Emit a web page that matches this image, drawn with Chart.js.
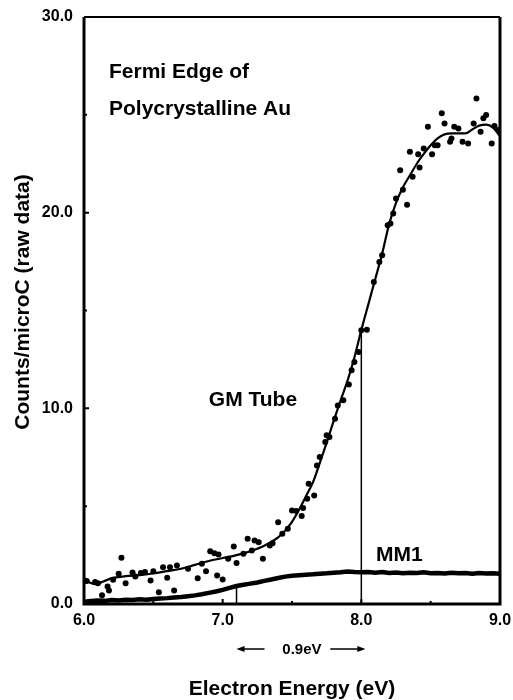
<!DOCTYPE html>
<html>
<head>
<meta charset="utf-8">
<script src="https://cdn.jsdelivr.net/npm/chart.js@4"></script>
<style>
  html, body { margin: 0; padding: 0; background: #fff; }
  canvas { display: block; }
</style>
</head>
<body>
<canvas id="chart" width="513" height="700"></canvas>
<script>

  /*
    ==================================================
    ====================== DATA ======================
    ==================================================
  */

  // GM tube raw counts
  let gmEnergy = [
    6.00, 6.02, 6.08, 6.10, 6.13, 6.17, 6.18, 6.21, 6.25, 6.27, 6.30, 6.35, 6.37,
    6.41, 6.44, 6.48, 6.50, 6.54, 6.57, 6.60, 6.62, 6.65, 6.67, 6.75, 6.82, 6.85,
    6.88, 6.91, 6.94, 6.96, 6.97, 7.00, 7.04, 7.08, 7.10, 7.15, 7.18, 7.21, 7.23,
    7.26, 7.29, 7.34, 7.36, 7.40, 7.43, 7.47, 7.50, 7.53, 7.57, 7.58, 7.61, 7.62,
    7.66, 7.68, 7.70, 7.74, 7.75, 7.77, 7.81, 7.83, 7.87, 7.91, 7.93, 7.95, 7.98,
    8.00, 8.04, 8.09, 8.13, 8.15, 8.19, 8.21, 8.23, 8.25, 8.28, 8.30, 8.33, 8.35,
    8.37, 8.41, 8.42, 8.45, 8.48, 8.51, 8.53, 8.55, 8.58, 8.60, 8.64, 8.65, 8.67,
    8.70, 8.73, 8.77, 8.81, 8.83, 8.86, 8.88, 8.90, 8.94, 8.96, 8.99
  ];
  let gmCounts = [
    1.22, 1.17, 1.12, 1.06, 0.45, 0.90, 0.69, 1.24, 1.54, 2.36, 1.06, 1.61, 1.41,
    1.58, 1.63, 1.20, 1.68, 0.60, 1.88, 1.34, 1.88, 0.69, 1.97, 1.80, 1.32, 2.06,
    1.68, 2.70, 2.60, 1.46, 2.53, 1.25, 2.31, 2.94, 2.09, 2.57, 3.33, 2.74, 3.25,
    3.16, 2.31, 2.99, 3.11, 4.18, 3.59, 3.85, 4.78, 4.75, 4.50, 4.90, 5.38, 6.15,
    5.55, 7.08, 7.51, 8.28, 8.62, 8.53, 9.47, 10.15, 10.41, 11.22, 11.94, 12.37, 12.88,
    13.99, 14.02, 16.46, 17.48, 17.83, 19.36, 19.45, 19.96, 20.73, 22.17, 21.17, 20.40, 23.11,
    21.83, 22.99, 22.31, 23.28, 24.39, 22.99, 23.45, 23.45, 25.08, 24.56, 23.62, 23.79, 24.39,
    24.30, 23.62, 23.54, 24.56, 25.84, 24.13, 24.82, 24.99, 23.54, 24.43, 24.22
  ];

  // smooth curve through the GM tube data
  let fitEnergy = [
    6.00, 6.04, 6.08, 6.14, 6.20, 6.30, 6.40, 6.50, 6.60, 6.70, 6.80, 6.90, 7.00,
    7.10, 7.20, 7.30, 7.40, 7.45, 7.50, 7.55, 7.60, 7.65, 7.70, 7.75, 7.80, 7.85,
    7.90, 7.95, 8.00, 8.05, 8.10, 8.15, 8.20, 8.25, 8.30, 8.35, 8.40, 8.45, 8.50,
    8.55, 8.60, 8.65, 8.70, 8.75, 8.80, 8.85, 8.90, 8.95, 9.00
  ];
  let fitCounts = [
    1.28, 1.10, 1.02, 1.15, 1.32, 1.42, 1.48, 1.56, 1.68, 1.80, 2.00, 2.20, 2.35,
    2.50, 2.70, 2.98, 3.40, 3.75, 4.20, 4.80, 5.50, 6.20, 7.20, 8.25, 9.35, 10.40,
    11.40, 12.60, 14.00, 15.30, 16.60, 17.90, 19.40, 20.50, 21.30, 21.90, 22.50, 23.00, 23.45,
    23.80, 24.00, 24.05, 24.05, 24.05, 24.25, 24.45, 24.50, 24.35, 23.90
  ];

  // MM1 counts
  let mmEnergy = [
    6.00, 6.05, 6.10, 6.15, 6.20, 6.25, 6.30, 6.35, 6.40, 6.45, 6.50, 6.55, 6.60,
    6.65, 6.70, 6.75, 6.80, 6.85, 6.90, 6.95, 7.00, 7.05, 7.10, 7.15, 7.20, 7.25,
    7.30, 7.35, 7.40, 7.45, 7.50, 7.55, 7.60, 7.65, 7.70, 7.75, 7.80, 7.85, 7.90,
    7.95, 8.00, 8.05, 8.10, 8.15, 8.20, 8.25, 8.30, 8.35, 8.40, 8.45, 8.50, 8.55,
    8.60, 8.65, 8.70, 8.75, 8.80, 8.85, 8.90, 8.95, 9.00
  ];
  let mmCounts = [
    0.12, 0.15, 0.18, 0.16, 0.20, 0.18, 0.22, 0.20, 0.24, 0.22, 0.26, 0.28, 0.30,
    0.33, 0.36, 0.40, 0.44, 0.50, 0.57, 0.64, 0.72, 0.82, 0.92, 0.98, 1.04, 1.10,
    1.18, 1.25, 1.33, 1.40, 1.44, 1.47, 1.50, 1.52, 1.55, 1.57, 1.60, 1.62, 1.66,
    1.63, 1.62, 1.64, 1.60, 1.63, 1.58, 1.61, 1.57, 1.60, 1.58, 1.62, 1.57, 1.59,
    1.56, 1.60, 1.57, 1.58, 1.55, 1.58, 1.56, 1.57, 1.55
  ];

  // vertical marker lines and the 0.9 eV width between them
  let markerEnergy = [7.1, 8.0];
  let markerTop = [1.0, 14.0];

  let xTicks = [6.0, 7.0, 8.0, 9.0];
  let xMinor = [6.5, 7.5, 8.5];
  let yTicks = [0, 10, 20, 30];
  let yMinor = [5, 15, 25];

  /*
    ==================================================
    ===================== PLUGIN =====================
    ==================================================
  */

  const FONT = '"Liberation Sans", Arial, Helvetica, sans-serif';

  let frameAndNotes = {
    id: 'frameAndNotes',
    afterDraw(chart) {
      let { ctx, chartArea: a, scales: { x, y } } = chart;

      ctx.save();
      ctx.strokeStyle = '#000';
      ctx.lineCap = 'butt';

      // frame
      ctx.lineWidth = 3;
      ctx.beginPath();
      ctx.moveTo(a.left, a.top);
      ctx.lineTo(a.left, a.bottom);
      ctx.lineTo(a.right, a.bottom);
      ctx.lineTo(a.right, a.top);
      ctx.stroke();
      ctx.lineWidth = 2;
      ctx.beginPath();
      ctx.moveTo(a.left, a.top);
      ctx.lineTo(a.right, a.top);
      ctx.stroke();

      // inward ticks
      ctx.lineWidth = 2;
      ctx.beginPath();
      yTicks.concat(yMinor).forEach(v => {
        let py = y.getPixelForValue(v);
        let len = yMinor.includes(v) ? 3 : 5;
        ctx.moveTo(a.left, py);
        ctx.lineTo(a.left + len, py);
      });
      xTicks.concat(xMinor).forEach(v => {
        let px = x.getPixelForValue(v);
        let len = xMinor.includes(v) ? 3 : 5;
        ctx.moveTo(px, a.bottom);
        ctx.lineTo(px, a.bottom - len);
      });
      ctx.stroke();

      ctx.fillStyle = '#000';
      ctx.textBaseline = 'alphabetic';

      // notes inside the plot
      ctx.font = `bold 21px ${FONT}`;
      ctx.textAlign = 'left';
      ctx.fillText('Fermi Edge of', x.getPixelForValue(6.18), y.getPixelForValue(26.9));
      ctx.fillText('Polycrystalline Au', x.getPixelForValue(6.18), y.getPixelForValue(25.0));
      ctx.fillText('GM Tube', x.getPixelForValue(6.90), y.getPixelForValue(10.1));
      ctx.fillText('MM1', x.getPixelForValue(8.105), y.getPixelForValue(2.2));

      // 0.9 eV arrows
      let x1 = x.getPixelForValue(markerEnergy[0]);
      let x2 = x.getPixelForValue(markerEnergy[1]) + 4;
      let ay = 649;
      ctx.font = `bold 15px ${FONT}`;
      ctx.textAlign = 'center';
      ctx.fillText('0.9eV', (x1 + x2) / 2 + 1, ay + 5);
      ctx.lineWidth = 1.3;
      ctx.beginPath();
      ctx.moveTo(x1 + 2, ay);
      ctx.lineTo(x1 + 28, ay);
      ctx.moveTo(x2 - 35, ay);
      ctx.lineTo(x2 - 2, ay);
      ctx.stroke();
      ctx.beginPath();
      ctx.moveTo(x1, ay);
      ctx.lineTo(x1 + 8, ay - 3);
      ctx.lineTo(x1 + 8, ay + 3);
      ctx.closePath();
      ctx.moveTo(x2, ay);
      ctx.lineTo(x2 - 8, ay - 3);
      ctx.lineTo(x2 - 8, ay + 3);
      ctx.closePath();
      ctx.fill();

      // axis titles
      ctx.font = `bold 21px ${FONT}`;
      ctx.textAlign = 'center';
      ctx.fillText('Electron Energy (eV)', (a.left + a.right) / 2, 695);

      ctx.translate(29, 302);
      ctx.rotate(-Math.PI / 2);
      ctx.fillText('Counts/microC (raw data)', 0, 0);

      ctx.restore();
    }
  };

  /*
    ==================================================
    ====================== CHART ======================
    ==================================================
  */

  let pairs = (xs, ys) => xs.map((v, i) => ({ x: v, y: ys[i] }));

  let markerSets = markerEnergy.map((e, i) => ({
    type: 'line',
    data: [{ x: e, y: 0 }, { x: e, y: markerTop[i] }],
    borderColor: '#000',
    borderWidth: 1.5,
    pointRadius: 0,
    order: 4
  }));

  new Chart(document.getElementById('chart').getContext('2d'), {
    type: 'scatter',
    data: {
      datasets: [
        {
          label: 'GM Tube',
          data: pairs(gmEnergy, gmCounts),
          backgroundColor: '#000',
          borderColor: '#000',
          pointRadius: 3,
          pointBorderWidth: 0,
          order: 1
        },
        {
          type: 'line',
          label: 'GM Tube fit',
          data: pairs(fitEnergy, fitCounts),
          borderColor: '#000',
          borderWidth: 2.2,
          pointRadius: 0,
          cubicInterpolationMode: 'monotone',
          order: 2
        },
        {
          type: 'line',
          label: 'MM1',
          data: pairs(mmEnergy, mmCounts),
          borderColor: '#000',
          borderWidth: 4.5,
          pointRadius: 0,
          tension: 0,
          order: 3
        },
        ...markerSets
      ]
    },
    options: {
      responsive: false,
      animation: false,
      layout: { padding: { top: 17, right: 13, left: 0, bottom: 0 } },
      plugins: {
        legend: { display: false },
        tooltip: { enabled: false }
      },
      scales: {
        x: {
          type: 'linear',
          min: 6,
          max: 9,
          grid: { display: false, drawTicks: false },
          border: { display: false },
          ticks: {
            stepSize: 0.5,
            padding: 7,
            color: '#000',
            font: { family: FONT, size: 16, weight: 'bold' },
            callback: v => xTicks.includes(v) ? v.toFixed(1) : ''
          },
          afterFit: s => {
            s.height = 96;
            s.paddingLeft = 0;
            s.paddingRight = 0;
          }
        },
        y: {
          type: 'linear',
          min: 0,
          max: 30,
          grid: { display: false, drawTicks: false },
          border: { display: false },
          ticks: {
            stepSize: 5,
            padding: 11,
            color: '#000',
            font: { family: FONT, size: 16, weight: 'bold' },
            callback: v => yTicks.includes(v) ? v.toFixed(1) : ''
          },
          afterFit: s => {
            s.width = 84;
            s.paddingTop = 0;
            s.paddingBottom = 0;
          }
        }
      }
    },
    plugins: [frameAndNotes]
  });

</script>
</body>
</html>
